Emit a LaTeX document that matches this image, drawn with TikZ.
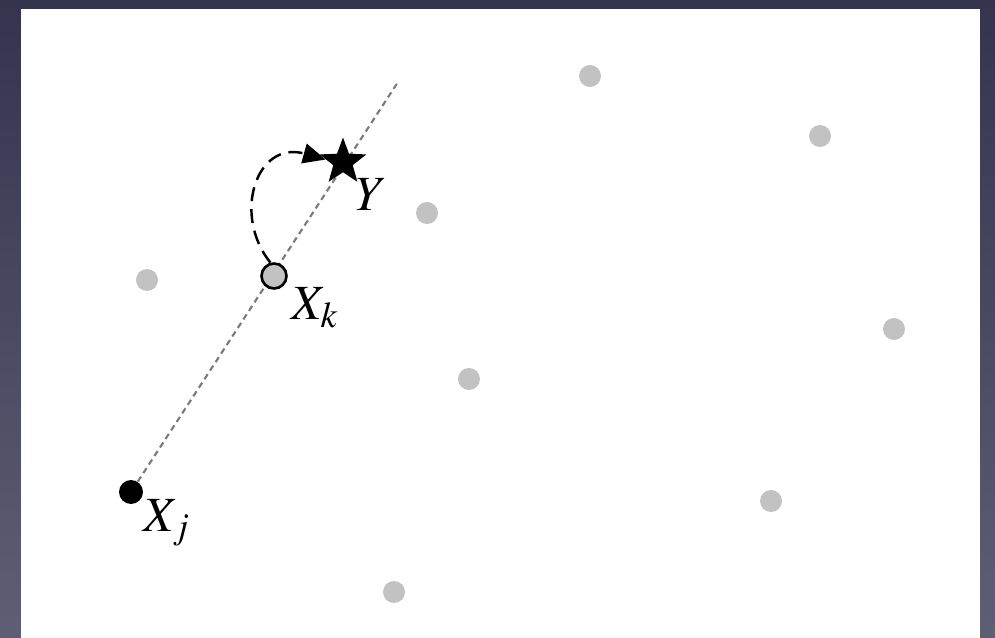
\documentclass[tikz,border=0pt]{standalone}
\usepackage{mathptmx}
\usetikzlibrary{arrows.meta,shapes.geometric}
\definecolor{Slate}{HTML}{34344F}
\definecolor{SlateLow}{HTML}{5E5E74}
\definecolor{Dot}{HTML}{C2C2C2}
\definecolor{Guide}{HTML}{7A7A7A}
\tikzset{
  sample/.style={circle, fill=Dot, minimum size=0.44cm, inner sep=0pt},
  query/.style={circle, draw=black, line width=1.5pt, fill=Dot,
    minimum size=0.5cm, inner sep=0pt},
  anchorpt/.style={circle, fill=black, minimum size=0.48cm, inner sep=0pt},
  target/.style={star, star points=5, star point ratio=2.4, fill=black,
    minimum size=0.98cm, inner sep=0pt},
  lab/.style={font=\fontsize{28}{30}\selectfont},
  guide/.style={draw=Guide, line width=1.2pt, dash pattern=on 3.4pt off 2.4pt},
  move/.style={draw=black, line width=1.4pt, dash pattern=on 8pt off 4.5pt,
    -{Triangle[length=4.5mm,width=4mm]}}
}
\begin{document}
\begin{tikzpicture}[x=0.02cm,y=-0.02cm]
  % backdrop and slide
  \shade[top color=Slate,bottom color=SlateLow] (0,0) rectangle (995,638);
  \fill[white] (21,9) rectangle (980,638);
  % other samples
  \node[sample] (s1) at (590,76) {};
  \node[sample] (s2) at (820,136) {};
  \node[sample] (s3) at (427,213) {};
  \node[sample] (s4) at (147,280) {};
  \node[sample] (s5) at (894,329) {};
  \node[sample] (s6) at (469,379) {};
  \node[sample] (s7) at (771,501) {};
  \node[sample] (s8) at (394,592) {};
  % line through X_j and X_k
  \coordinate (far) at (398,82);
  \node[anchorpt] (xj) at (131,492) {};
  \draw[guide] (xj) -- (far);
  \node[query] (xk) at (274,276) {};
  \node[target] (y) at (343,162) {};
  \draw[move] (xk.105) .. controls (232,215) and (256,140) .. (y.172);
  % labels
  \node[lab] (ylab) at (372,195) {$Y$};
  \node[lab] (xklab) at (315,308) {$X_k$};
  \node[lab] (xjlab) at (167,523) {$X_j$};
\end{tikzpicture}
\end{document}
